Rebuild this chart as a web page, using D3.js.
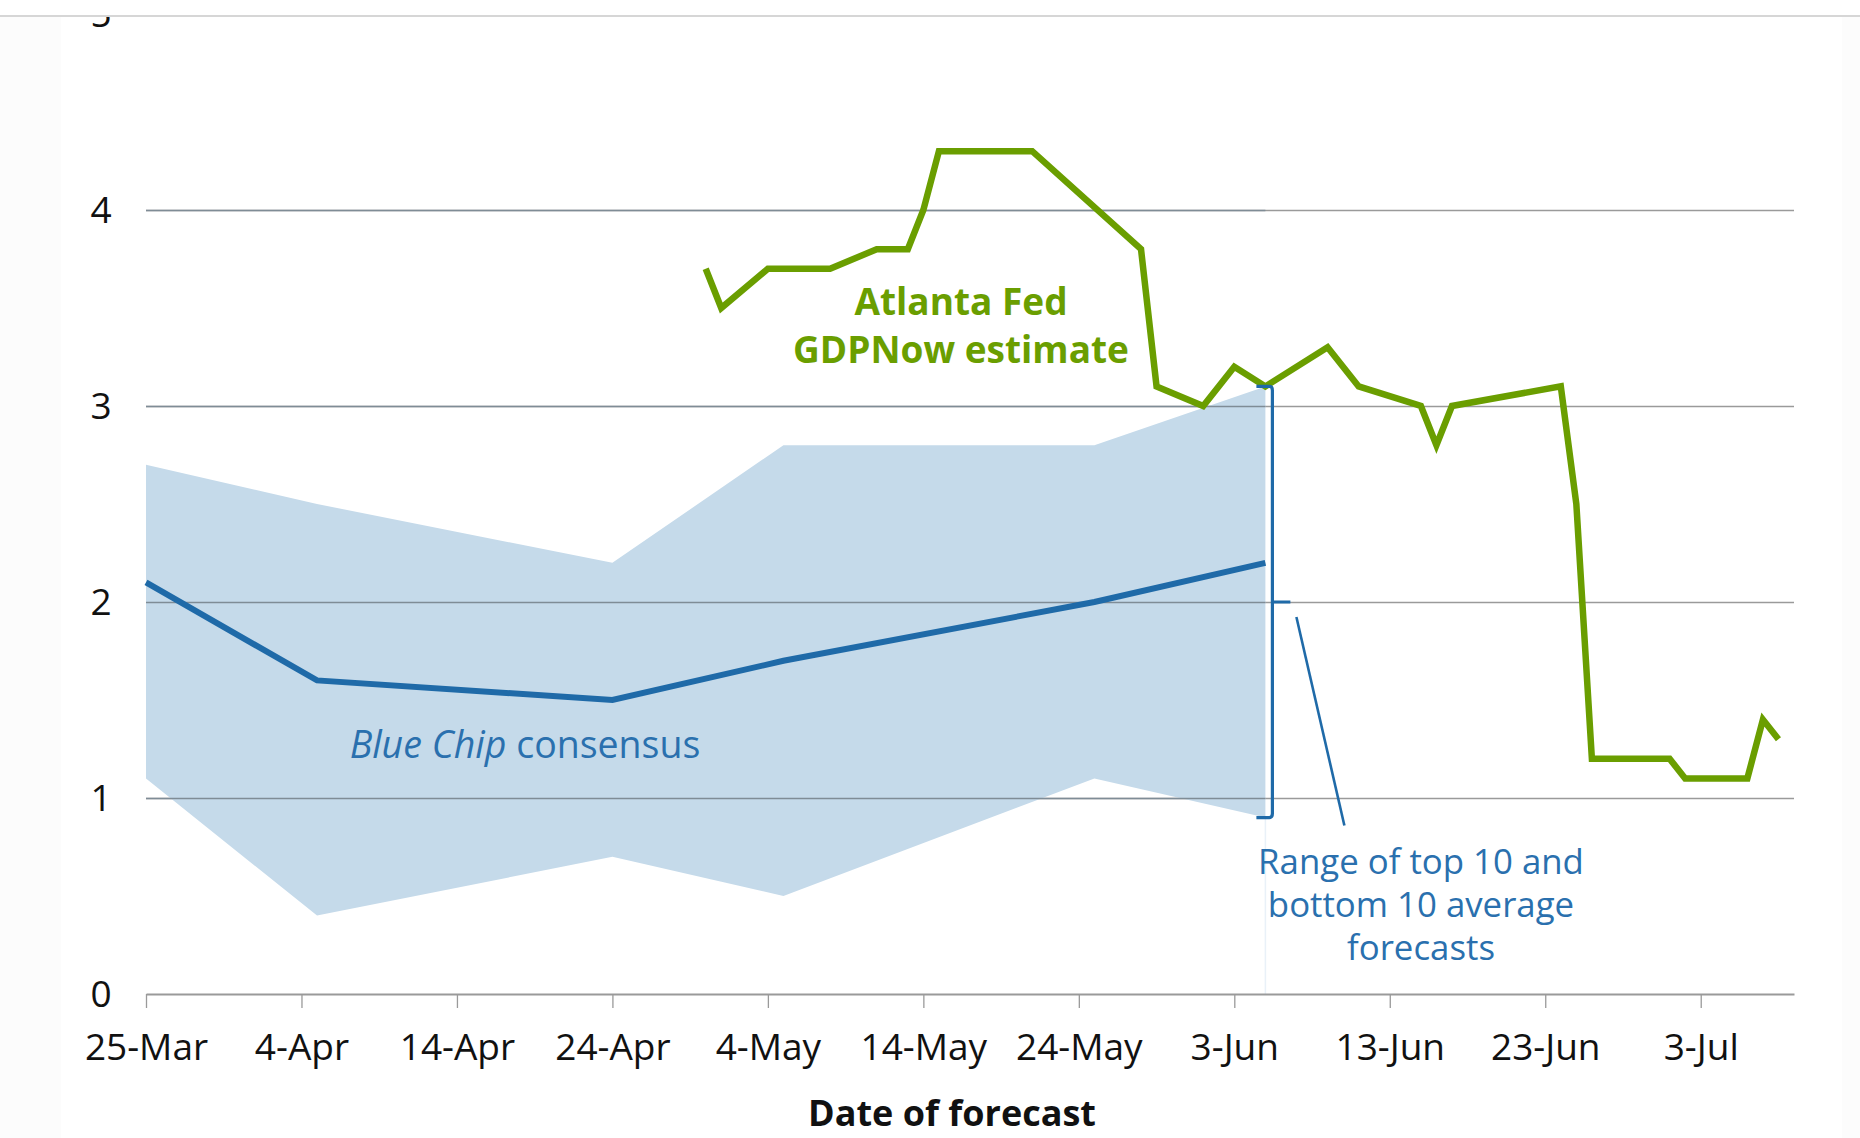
<!DOCTYPE html>
<html>
<head>
<meta charset="utf-8">
<script src="https://cdn.jsdelivr.net/npm/d3@7"></script>
<style>
  body { margin: 0; background: #fff; }
  text { font-family: "Open Sans", "Noto Sans", sans-serif; }
</style>
</head>
<body>
<div class="chart_holder"></div>
<script>

// Blue Chip consensus survey dates, mean and range of top 10 / bottom 10 averages
const blueChipDates = ["2019-03-25", "2019-04-05", "2019-04-24", "2019-05-05", "2019-05-25", "2019-06-05"]
const blueChipMean = [2.1, 1.6, 1.5, 1.7, 2.0, 2.2]
const blueChipTop10 = [2.7, 2.5, 2.2, 2.8, 2.8, 3.1]
const blueChipBottom10 = [1.1, 0.4, 0.7, 0.5, 1.1, 0.9]

// Atlanta Fed GDPNow estimate
const gdpNowDates = ["2019-04-30", "2019-05-01", "2019-05-04", "2019-05-08", "2019-05-11", "2019-05-13",
    "2019-05-14", "2019-05-15", "2019-05-21", "2019-05-28", "2019-05-29", "2019-06-01", "2019-06-03",
    "2019-06-05", "2019-06-09", "2019-06-11", "2019-06-15", "2019-06-16", "2019-06-17", "2019-06-24",
    "2019-06-25", "2019-06-26", "2019-07-01", "2019-07-02", "2019-07-06", "2019-07-07", "2019-07-08"]
const gdpNowValues = [3.7, 3.5, 3.7, 3.7, 3.8, 3.8,
    4.0, 4.3, 4.3, 3.8, 3.1, 3.0, 3.2,
    3.1, 3.3, 3.1, 3.0, 2.8, 3.0, 3.1,
    2.5, 1.2, 1.2, 1.1, 1.1, 1.4, 1.3]

const xTickDates = ["2019-03-25", "2019-04-04", "2019-04-14", "2019-04-24", "2019-05-04", "2019-05-14",
    "2019-05-24", "2019-06-03", "2019-06-13", "2019-06-23", "2019-07-03"]
const yTicks = [0, 1, 2, 3, 4, 5]
const xDomain = ["2019-03-25", "2019-07-09"]


function drawChart() {

    const width = 1860
    const height = 1138

    const parse = d3.timeParse("%Y-%m-%d")
    const fmt = d3.timeFormat("%-d-%b")

    const blue_chip = blueChipDates.map((d, i) => ({
        date: parse(d),
        mean: blueChipMean[i],
        top: blueChipTop10[i],
        bottom: blueChipBottom10[i]
    }))

    const gdp_now = gdpNowDates.map((d, i) => ({ date: parse(d), value: gdpNowValues[i] }))

    const svg = d3.select(".chart_holder")
        .append("svg")
        .attr("width", width)
        .attr("height", height)

    // faint side strips of the original screenshot
    svg.append("rect").attr("x", 0).attr("y", 0).attr("width", 61).attr("height", height).attr("fill", "#fcfcfc")
    svg.append("rect").attr("x", 1842).attr("y", 0).attr("width", 18).attr("height", height).attr("fill", "#fcfcfc")

    const x = d3.scaleTime()
        .domain(xDomain.map(parse))
        .range([146, 1794])

    const y = d3.scaleLinear()
        .domain([0, 5])
        .range([994, 14])

    // gridlines
    svg.append("g")
        .selectAll("line")
        .data(yTicks.filter(d => d > 0))
        .join("line")
        .attr("x1", x.range()[0])
        .attr("x2", x.range()[1])
        .attr("y1", d => y(d) + 0.5)
        .attr("y2", d => y(d) + 0.5)
        .attr("stroke", "#9a9a9a")
        .attr("stroke-width", 1.3)

    // band
    const area = d3.area()
        .x(d => x(d.date))
        .y0(d => y(d.bottom))
        .y1(d => y(d.top))

    svg.append("path")
        .datum(blue_chip)
        .attr("d", area)
        .attr("fill", "#c5daea")

    // faint band edge down to the axis
    const last = blue_chip[blue_chip.length - 1]
    svg.append("line")
        .attr("x1", x(last.date)).attr("x2", x(last.date))
        .attr("y1", y(last.bottom)).attr("y2", y(0))
        .attr("stroke", "#e9f1f8")
        .attr("stroke-width", 1.5)

    // gridlines show through the band
    svg.append("g")
        .selectAll("line")
        .data(yTicks.filter(d => d > 0 && d < 5))
        .join("line")
        .attr("x1", x.range()[0])
        .attr("x2", x(last.date))
        .attr("y1", d => y(d) + 0.5)
        .attr("y2", d => y(d) + 0.5)
        .attr("stroke", "#7f8c96")
        .attr("stroke-width", 1.3)

    // x axis
    const xAxis = d3.axisBottom(x)
        .tickValues(xTickDates.map(parse))
        .tickFormat(fmt)
        .tickSize(14)
        .tickSizeOuter(0)
        .tickPadding(26)

    const gx = svg.append("g")
        .attr("transform", `translate(0,${y(0)})`)
        .call(xAxis)

    gx.select(".domain").attr("stroke", "#9a9a9a").attr("stroke-width", 2)
    gx.selectAll(".tick line").attr("stroke", "#9a9a9a").attr("stroke-width", 1.3)
    gx.selectAll(".tick text")
        .attr("font-size", 37)
        .attr("fill", "#111")
        .style("font-family", "'Open Sans', sans-serif")

    // y labels
    svg.append("g")
        .selectAll("text")
        .data(yTicks)
        .join("text")
        .attr("x", 101)
        .attr("y", d => y(d))
        .attr("dy", "0.36em")
        .attr("text-anchor", "middle")
        .attr("font-size", 37)
        .attr("fill", "#111")
        .text(d => d)

    // lines
    const mean_line = d3.line()
        .x(d => x(d.date))
        .y(d => y(d.mean))

    svg.append("path")
        .datum(blue_chip)
        .attr("d", mean_line)
        .attr("fill", "none")
        .attr("stroke", "#1f6aa8")
        .attr("stroke-width", 6)

    const gdp_line = d3.line()
        .x(d => x(d.date))
        .y(d => y(d.value))

    svg.append("path")
        .datum(gdp_now)
        .attr("d", gdp_line)
        .attr("fill", "none")
        .attr("stroke", "#6a9e00")
        .attr("stroke-width", 6.5)
        .attr("stroke-linejoin", "miter")

    // bracket for the range
    const bx = x(last.date) + 7
    const yt = y(last.top)
    const yb = y(last.bottom)
    const ym = y((last.top + last.bottom) / 2)
    const bracket = d3.path()
    bracket.moveTo(x(last.date) - 9, yt)
    bracket.lineTo(bx - 3, yt)
    bracket.quadraticCurveTo(bx, yt, bx, yt + 4)
    bracket.lineTo(bx, yb - 4)
    bracket.quadraticCurveTo(bx, yb, bx - 3, yb)
    bracket.lineTo(x(last.date) - 9, yb)
    bracket.moveTo(bx, ym)
    bracket.lineTo(bx + 18, ym)

    svg.append("path")
        .attr("d", bracket.toString())
        .attr("fill", "none")
        .attr("stroke", "#1f6aa8")
        .attr("stroke-width", 3.2)

    // leader line
    svg.append("line")
        .attr("x1", bx + 24).attr("y1", ym + 15)
        .attr("x2", bx + 72).attr("y2", y(0.86))
        .attr("stroke", "#1f6aa8")
        .attr("stroke-width", 2.6)

    // annotations
    const green_label = svg.append("text")
        .attr("x", 961)
        .attr("y", 315)
        .attr("text-anchor", "middle")
        .attr("font-size", 37)
        .attr("font-weight", "bold")
        .attr("fill", "#6a9e00")
    green_label.append("tspan").attr("x", 961).attr("dy", 0).text("Atlanta Fed")
    green_label.append("tspan").attr("x", 961).attr("dy", 48).text("GDPNow estimate")

    const blue_label = svg.append("text")
        .attr("x", 525)
        .attr("y", 758)
        .attr("text-anchor", "middle")
        .attr("font-size", 37.5)
        .attr("fill", "#2a70ae")
    blue_label.append("tspan").attr("font-style", "italic").text("Blue Chip")
    blue_label.append("tspan").text(" consensus")

    const range_label = svg.append("text")
        .attr("x", 1421)
        .attr("y", 874)
        .attr("text-anchor", "middle")
        .attr("font-size", 34.8)
        .attr("fill", "#2a70ae")

    range_label.selectAll("tspan")
        .data(["Range of top 10 and", "bottom 10 average", "forecasts"])
        .join("tspan")
        .attr("x", 1421)
        .attr("dy", (d, i) => i == 0 ? 0 : 43)
        .text(d => d)

    // axis title
    svg.append("text")
        .attr("x", 952)
        .attr("y", 1126)
        .attr("text-anchor", "middle")
        .attr("font-size", 36)
        .attr("font-weight", "bold")
        .attr("fill", "#111")
        .text("Date of forecast")

    // top cut-off of the original screenshot
    svg.append("rect").attr("x", 0).attr("y", 0).attr("width", width).attr("height", 15).attr("fill", "#fff")
    svg.append("line")
        .attr("x1", 0).attr("x2", width)
        .attr("y1", 16).attr("y2", 16)
        .attr("stroke", "#d6d6d6")
        .attr("stroke-width", 2)
}

drawChart()
</script>
</body>
</html>
